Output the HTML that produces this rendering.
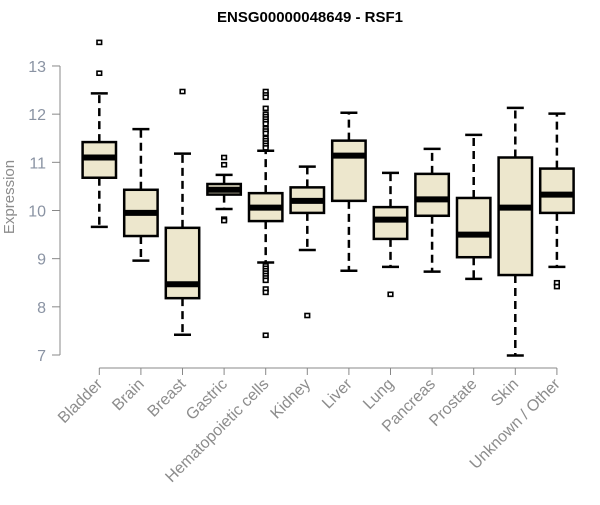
<!DOCTYPE html>
<html><head><meta charset="utf-8"><style>
body{margin:0;background:#fff;font-family:"Liberation Sans",Arial,sans-serif}
</style></head><body>
<svg id="chart" width="600" height="500" xmlns="http://www.w3.org/2000/svg">
<text x="310" y="22" text-anchor="middle" font-size="15" font-weight="bold" font-family="Liberation Sans, sans-serif">ENSG00000048649 - RSF1</text>
<text transform="translate(14,197) rotate(-90)" text-anchor="middle" font-size="15" fill="#8c8c8c" font-family="Liberation Sans, sans-serif">Expression</text>
<g id="axes"></g><g id="boxes"></g>
</svg>
<script>
const categories=["Bladder","Brain","Breast","Gastric","Hematopoietic cells","Kidney","Liver","Lung","Pancreas","Prostate","Skin","Unknown / Other"];
const whiskerLow=[9.66,8.96,7.42,10.03,8.92,9.18,8.75,8.83,8.73,8.58,6.99,8.83];
const q1=[10.68,9.47,8.18,10.33,9.78,9.95,10.20,9.41,9.89,9.03,8.66,9.95];
const median=[11.10,9.95,8.47,10.43,10.06,10.20,11.14,9.81,10.23,9.50,10.06,10.33];
const q3=[11.42,10.43,9.64,10.55,10.36,10.48,11.45,10.07,10.76,10.26,11.10,10.87];
const whiskerHigh=[12.43,11.69,11.18,10.74,11.24,10.91,12.03,10.78,11.28,11.57,12.13,12.01];
const outliers=[[13.49,12.85],[],[12.47],[11.10,10.95,9.82,9.79],[12.47,12.40,12.35,12.12,12.0,11.95,11.9,11.85,11.8,11.7,11.65,11.6,11.5,11.45,11.4,11.35,11.3,8.85,8.8,8.75,8.7,8.65,8.6,8.55,8.37,8.3,7.41],[7.82],[],[8.26],[],[],[],[8.5,8.42]];
const yTicks=[7,8,9,10,11,12,13];
const NS="http://www.w3.org/2000/svg";
const y=v=>355-(v-7)*48.17;
const x=i=>99.3+i*41.6;
function mk(tag,attrs,parent){const e=document.createElementNS(NS,tag);for(const k in attrs)e.setAttribute(k,attrs[k]);parent.appendChild(e);return e;}
const axes=document.getElementById('axes'),boxes=document.getElementById('boxes');
let ya=mk('line',{x1:60,x2:60,y1:y(13),y2:y(7),stroke:'#888','stroke-width':1},axes);


yTicks.forEach(t=>{
 let l=mk('line',{x1:52,x2:60,y1:y(t),y2:y(t),stroke:'#888'},axes);
 
 
 let tx=mk('text',{x:46,y:y(t)+6,'text-anchor':'end','font-size':16,fill:'#8a93a3','font-family':'Liberation Sans, sans-serif'},axes);
 tx.textContent=t;
 
 
});
let xa=mk('line',{x1:x(0),x2:x(categories.length-1),y1:368,y2:368,stroke:'#888'},axes);


categories.forEach((c,i)=>{
 const cx=x(i);
 let tk=mk('line',{x1:cx,x2:cx,y1:368,y2:375,stroke:'#888'},axes);
 
 
 let lb=mk('text',{transform:`translate(${cx+4},${385}) rotate(-45)`,'text-anchor':'end','font-size':16,fill:'#8c8c8c','font-family':'Liberation Sans, sans-serif'},axes);
 lb.textContent=c;
 
 
 const g=mk('g',{},boxes);
 
 
 const hw=16.7;
 mk('line',{x1:cx,x2:cx,y1:y(q3[i]),y2:y(whiskerHigh[i]),stroke:'#000','stroke-width':2.5,'stroke-dasharray':'8,5'},g);
 mk('line',{x1:cx,x2:cx,y1:y(q1[i]),y2:y(whiskerLow[i]),stroke:'#000','stroke-width':2.5,'stroke-dasharray':'8,5'},g);
 mk('line',{x1:cx-8.5,x2:cx+8.5,y1:y(whiskerHigh[i]),y2:y(whiskerHigh[i]),stroke:'#000','stroke-width':2.5},g);
 mk('line',{x1:cx-8.5,x2:cx+8.5,y1:y(whiskerLow[i]),y2:y(whiskerLow[i]),stroke:'#000','stroke-width':2.5},g);
 mk('rect',{x:cx-hw,y:y(q3[i]),width:hw*2,height:y(q1[i])-y(q3[i]),fill:'#ede7cd',stroke:'#000','stroke-width':2.5},g);
 mk('line',{x1:cx-hw,x2:cx+hw,y1:y(median[i]),y2:y(median[i]),stroke:'#000','stroke-width':6},g);
 outliers[i].forEach(o=>{
  let r=mk('rect',{x:cx-2.3,y:y(o)-2,width:4.6,height:4,fill:'#fff',stroke:'#000','stroke-width':1.6},g);
  
  
 });
});
</script>
</body></html>
